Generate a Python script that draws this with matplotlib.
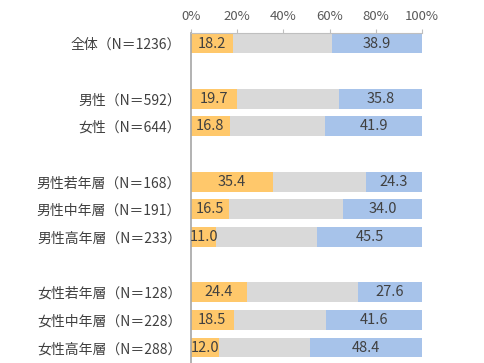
import matplotlib
matplotlib.use("Agg")
import matplotlib.pyplot as plt
import numpy as np

plt.rcParams['font.family'] = ['Noto Sans CJK JP', 'DejaVu Sans']

# data (percent), rows from top to bottom; None marks an empty spacer row
categories = ["全体（N＝1236）", None,
              "男性（N＝592）", "女性（N＝644）", None,
              "男性若年層（N＝168）", "男性中年層（N＝191）", "男性高年層（N＝233）", None,
              "女性若年層（N＝128）", "女性中年層（N＝228）", "女性高年層（N＝288）"]
orange_vals = [18.2, None, 19.7, 16.8, None, 35.4, 16.5, 11.0, None, 24.4, 18.5, 12.0]
blue_vals = [38.9, None, 35.8, 41.9, None, 24.3, 34.0, 45.5, None, 27.6, 41.6, 48.4]

c_orange = '#FFC86B'
c_gray = '#D9D9D9'
c_blue = '#A7C3EA'
c_text = '#404040'

fig = plt.figure(figsize=(4.84, 3.63), dpi=100)
ax = fig.add_axes([191 / 484, 0.0, 231 / 484, 330 / 363])

pos, labels = [], []
for i, (cat, o, b) in enumerate(zip(categories, orange_vals, blue_vals)):
    if cat is None:
        continue
    g = 100 - o - b
    h = 0.72
    ax.barh(i, o, height=h, color=c_orange, left=0)
    ax.barh(i, g, height=h, color=c_gray, left=o)
    ax.barh(i, b, height=h, color=c_blue, left=o + g)
    ax.text(o / 2, i, f"{o:.1f}", ha='center', va='center', fontsize=10.5, color=c_text)
    ax.text(100 - b / 2, i, f"{b:.1f}", ha='center', va='center', fontsize=10.5, color=c_text)
    pos.append(i)
    labels.append(cat)

ax.set_xlim(0, 100)
ax.set_ylim(11.56, -0.38)
ax.set_yticks(pos)
ax.set_yticklabels(labels, fontsize=10, color=c_text)
ax.tick_params(axis='y', length=0, pad=7)

ax.xaxis.tick_top()
ax.set_xticks(np.arange(0, 101, 20))
ax.set_xticklabels([f"{v}%" for v in range(0, 101, 20)], fontsize=9.5, color='#595959')
ax.tick_params(axis='x', length=3, color='#BFBFBF', pad=4)

for s in ['right', 'bottom']:
    ax.spines[s].set_visible(False)
ax.spines['top'].set_color('#BFBFBF')
ax.spines['left'].set_color('#A6A6A6')
ax.spines['left'].set_linewidth(1.2)

fig.savefig('out.png', dpi=100)
